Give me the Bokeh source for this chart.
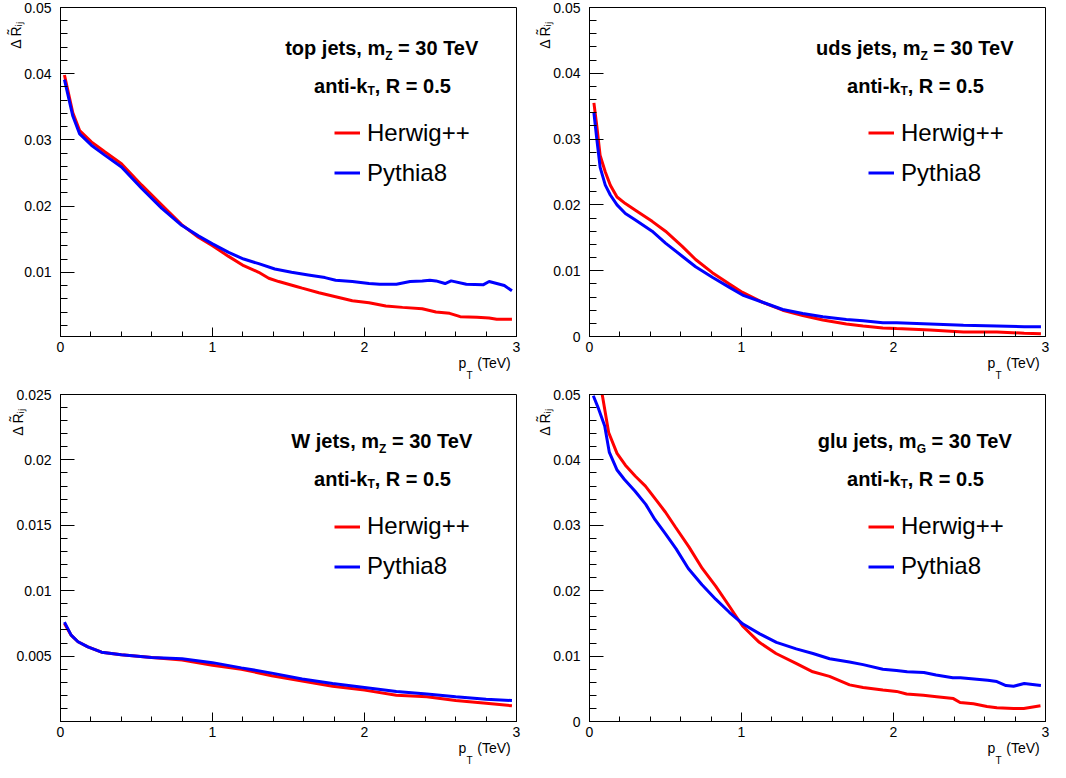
from bokeh.plotting import figure
from bokeh.models import (Range1d, FixedTicker, CustomJSTickFormatter, Label,
                          Legend, LegendItem, LinearAxis)
from bokeh.layouts import column, row
from bokeh.embed import file_html
from bokeh.resources import INLINE

# ---------------- data ----------------
SERIES_NAMES = ["Herwig++", "Pythia8"]

# top jets
top_x_herwig = [0.026, 0.081, 0.126, 0.203, 0.291, 0.401, 0.533, 0.665, 0.797, 0.907, 1.0,
                1.106, 1.205, 1.304, 1.37, 1.436, 1.546, 1.59, 1.70, 1.81, 1.92, 2.03, 2.14,
                2.25, 2.38, 2.47, 2.56, 2.63, 2.74, 2.82, 2.87, 2.97]
top_y_herwig = [0.0398, 0.0341, 0.0314, 0.0297, 0.0282, 0.0264, 0.0232, 0.0202, 0.0172, 0.0153,
                0.0140, 0.0124, 0.0110, 0.0100, 0.0091, 0.0086, 0.0079, 0.0076, 0.0069, 0.0063,
                0.0057, 0.0054, 0.0049, 0.0047, 0.0045, 0.0040, 0.0038, 0.0033, 0.0032, 0.0031,
                0.0029, 0.0029]
top_x_pythia = [0.026, 0.081, 0.126, 0.203, 0.291, 0.401, 0.533, 0.665, 0.797, 0.907, 1.0,
                1.106, 1.205, 1.304, 1.41, 1.52, 1.63, 1.74, 1.81, 1.92, 2.03, 2.10, 2.21, 2.30,
                2.38, 2.43, 2.47, 2.53, 2.57, 2.67, 2.78, 2.82, 2.92, 2.97]
top_y_pythia = [0.0391, 0.0336, 0.0309, 0.0292, 0.0277, 0.0259, 0.0227, 0.0197, 0.0171, 0.0155,
                0.0143, 0.0130, 0.0120, 0.0113, 0.0105, 0.0100, 0.0096, 0.0092, 0.0088, 0.0086,
                0.0083, 0.0082, 0.0082, 0.0086, 0.0087, 0.0088, 0.0087, 0.0083, 0.0087, 0.0082,
                0.0081, 0.0086, 0.0080, 0.0072]

# uds jets
uds_x = [0.029, 0.048, 0.070, 0.104, 0.137, 0.181, 0.236, 0.302, 0.412, 0.50, 0.61, 0.698,
         0.808, 0.918, 1.007, 1.139, 1.271, 1.403, 1.535, 1.69, 1.80, 1.93, 2.02, 2.24, 2.46,
         2.68, 2.86, 2.97]
uds_y_herwig = [0.0355, 0.032, 0.0275, 0.025, 0.023, 0.0212, 0.0202, 0.0192, 0.0175, 0.016,
                0.0137, 0.0117, 0.0097, 0.0080, 0.0067, 0.0052, 0.0040, 0.0032, 0.0025, 0.0019,
                0.0016, 0.0013, 0.0012, 0.0010, 0.0007, 0.0007, 0.0005, 0.0004]
uds_y_pythia = [0.034, 0.030, 0.0257, 0.023, 0.0215, 0.020, 0.0187, 0.0177, 0.016, 0.0142,
                0.0122, 0.0106, 0.009, 0.0075, 0.0063, 0.0052, 0.0041, 0.0035, 0.0030, 0.0026,
                0.0024, 0.0021, 0.0021, 0.0019, 0.0017, 0.0016, 0.0015, 0.0015]

# W jets
w_x = [0.026, 0.07, 0.115, 0.18, 0.27, 0.40, 0.60, 0.80, 1.0, 1.19, 1.39, 1.59, 1.79, 2.0,
       2.21, 2.41, 2.60, 2.80, 2.97]
w_y_herwig = [0.0075, 0.0066, 0.0061, 0.0057, 0.0053, 0.0051, 0.0049, 0.0047, 0.0043, 0.0040,
              0.0035, 0.0031, 0.0027, 0.0024, 0.0020, 0.0019, 0.0016, 0.0014, 0.0012]
w_y_pythia = [0.0076, 0.0066, 0.0061, 0.0057, 0.0053, 0.0051, 0.0049, 0.0048, 0.0045, 0.0041,
              0.0037, 0.00325, 0.0029, 0.0026, 0.0023, 0.0021, 0.0019, 0.0017, 0.0016]

# glu jets
glu_x_herwig = [0.03, 0.08, 0.126, 0.181, 0.236, 0.302, 0.368, 0.434, 0.50, 0.566, 0.654, 0.742,
                0.830, 0.918, 1.007, 1.117, 1.227, 1.359, 1.469, 1.579, 1.711, 1.80, 1.93, 2.02,
                2.086, 2.196, 2.284, 2.394, 2.438, 2.526, 2.615, 2.68, 2.79, 2.857, 2.967]
glu_y_herwig = [0.056, 0.0505, 0.0442, 0.041, 0.0392, 0.0375, 0.036, 0.034, 0.032, 0.0297,
                0.0267, 0.0234, 0.0207, 0.0177, 0.0146, 0.0121, 0.0104, 0.0089, 0.0076, 0.0069,
                0.0056, 0.0052, 0.0048, 0.0046, 0.0042, 0.0040, 0.0038, 0.0035, 0.0029, 0.0027,
                0.0023, 0.0021, 0.0020, 0.0020, 0.0024]
glu_x_pythia = [0.025, 0.06, 0.10, 0.13, 0.18, 0.23, 0.30, 0.37, 0.43, 0.50, 0.57, 0.65, 0.74,
                0.83, 0.92, 1.01, 1.12, 1.23, 1.36, 1.47, 1.58, 1.71, 1.80, 1.93, 2.02, 2.09,
                2.20, 2.28, 2.39, 2.44, 2.53, 2.62, 2.68, 2.74, 2.79, 2.86, 2.97]
glu_y_pythia = [0.0498, 0.0478, 0.0452, 0.0412, 0.0385, 0.037, 0.0352, 0.0332, 0.0309, 0.0287,
                0.0264, 0.0234, 0.0209, 0.0187, 0.0167, 0.0149, 0.0134, 0.0121, 0.0111, 0.0104,
                0.0096, 0.0091, 0.0087, 0.0080, 0.0078, 0.0076, 0.0075, 0.0071, 0.0067, 0.0067,
                0.0065, 0.0063, 0.0061, 0.0055, 0.0054, 0.0058, 0.0055]

# ticks
X_TICKS = [0, 1, 2, 3]
X_TICK_LABELS = ["0", "1", "2", "3"]
Y_TICKS_TOP = [0.01, 0.02, 0.03, 0.04, 0.05]
Y_TICK_LABELS_TOP = ["0.01", "0.02", "0.03", "0.04", "0.05"]
Y_TICKS_FULL = [0.0, 0.01, 0.02, 0.03, 0.04, 0.05]
Y_TICK_LABELS_FULL = ["0", "0.01", "0.02", "0.03", "0.04", "0.05"]
Y_TICKS_W = [0.005, 0.01, 0.015, 0.02, 0.025]
Y_TICK_LABELS_W = ["0.005", "0.01", "0.015", "0.02", "0.025"]

# axis titles
X_TITLE_MAIN = ["p", "(TeV)"]
X_TITLE_SUB = "T"
Y_TITLE = "\u0394\u2009R\u0303\u1d62\u2c7c"

# ---------------- style ----------------
FONT = "Liberation Sans"
RED = "#ff0000"
BLUE = "#0000ff"
NB = "\u00a0"

BOLD_W = {"t": 333, "o": 611, "p": 611, " ": 278, NB: 278, "j": 278, "e": 556, "s": 556,
          ",": 278, "m": 889, "u": 611, "d": 611, "W": 944, "g": 611, "l": 278, "=": 584,
          "3": 556, "0": 556, "T": 611, "V": 667, "a": 556, "n": 611, "i": 278, "-": 333,
          "k": 556, "R": 722, ".": 278, "5": 556, "Z": 611, "G": 778}


def bold_width(s, size):
    return sum(BOLD_W.get(c, 556) for c in s) * size / 1000.0


def tick_formatter(tvals, tlabels):
    return CustomJSTickFormatter(args=dict(tvals=tvals, tlabels=tlabels), code="""
        for (let i = 0; i < tvals.length; i++) {
            if (Math.abs(tvals[i] - tick) < 1e-9) { return tlabels[i]; }
        }
        return "";
    """)


def rich_line(p, pieces, cx, base_dy, ymax):
    total = sum(bold_width(t, s) for t, s, _ in pieces)
    xo = cx - total / 2.0
    for t, s, drop in pieces:
        p.add_layout(Label(x=0, y=ymax, x_offset=xo, y_offset=-(base_dy + drop), text=t,
                           text_font=FONT, text_font_style="bold",
                           text_font_size=f"{s}px", text_color="black",
                           text_align="left", text_baseline="alphabetic"))
        xo += bold_width(t, s)


def text_axis(p, side, ticks, labels, size, standoff, orientation="horizontal"):
    ax = LinearAxis(ticker=FixedTicker(ticks=ticks, minor_ticks=[]),
                    formatter=tick_formatter(ticks, labels))
    ax.axis_line_color = None
    ax.major_tick_line_color = None
    ax.minor_tick_line_color = None
    ax.major_tick_in = 0
    ax.major_tick_out = 0
    ax.minor_tick_in = 0
    ax.minor_tick_out = 0
    ax.major_label_standoff = standoff
    ax.major_label_orientation = orientation
    ax.major_label_text_font = FONT
    ax.major_label_text_font_size = f"{size}px"
    ax.major_label_text_color = "black"
    p.add_layout(ax, side)


def make_panel(series, y_rng, y_ticks, y_labels, title_pieces, sub_pieces, g):
    ymin, ymax = y_rng
    fw, fh = 456, g["fh"]
    p = figure(frame_width=fw, frame_height=fh,
               x_range=Range1d(0, 3), y_range=Range1d(ymin, ymax),
               output_backend="svg", toolbar_location=None,
               min_border_left=g["bl"], min_border_right=g["br"],
               min_border_top=g["bt"], min_border_bottom=g["bb"],
               background_fill_color="white", border_fill_color="white")
    p.grid.visible = False
    p.outline_line_color = "black"
    p.outline_line_width = 1
    p.outline_line_alpha = 1

    x_minor = [i * 0.2 for i in range(16)]
    ax = p.xaxis[0]
    ax.ticker = FixedTicker(ticks=X_TICKS, minor_ticks=x_minor)
    ax.formatter = tick_formatter(X_TICKS, X_TICK_LABELS)
    ax.major_tick_in = 9
    ax.major_tick_out = 0
    ax.minor_tick_in = 5
    ax.minor_tick_out = 0
    ax.major_label_standoff = 5

    step = (y_ticks[1] - y_ticks[0]) / 5.0
    n = int(round(ymax / step))
    y_minor = [i * step for i in range(n + 1) if i * step >= ymin - 1e-12]
    ay = p.yaxis[0]
    ay.ticker = FixedTicker(ticks=y_ticks, minor_ticks=y_minor)
    ay.formatter = tick_formatter(y_ticks, y_labels)
    ay.major_tick_in = 14
    ay.major_tick_out = 0
    ay.minor_tick_in = 7
    ay.minor_tick_out = 0
    ay.major_label_standoff = 9

    for a in (ax, ay):
        a.axis_line_color = "black"
        a.major_tick_line_color = "black"
        a.minor_tick_line_color = "black"
        a.major_label_text_font = FONT
        a.major_label_text_font_size = "14px"
        a.major_label_text_color = "black"

    renderers = []
    for (xs, ys), color in zip(series, [RED, BLUE]):
        renderers.append(p.line(xs, ys, line_color=color, line_width=3))

    rich_line(p, title_pieces, g["cx"], g["t1"], ymax)
    rich_line(p, sub_pieces, g["cx"], g["t2"], ymax)

    legend = Legend(items=[LegendItem(label=SERIES_NAMES[0], renderers=[renderers[0]]),
                           LegendItem(label=SERIES_NAMES[1], renderers=[renderers[1]])],
                    location=(g["lgx"], g["lgy"]), orientation="vertical",
                    glyph_width=26, glyph_height=27, label_height=27, label_standoff=7,
                    spacing=12, padding=0, margin=0,
                    border_line_alpha=0, background_fill_alpha=0,
                    label_text_font=FONT, label_text_font_size="24px",
                    label_text_color="black")
    p.add_layout(legend)

    # x axis title  p_T (TeV), right-aligned under the axis
    px_to_x = 3.0 / fw
    text_axis(p, "below", [3 - 54 * px_to_x, 3 - 22.5 * px_to_x], X_TITLE_MAIN, 14, 0)
    text_axis(p, "below", [3 - 47 * px_to_x], [X_TITLE_SUB], 10, -4)
    # y axis title  Delta R~_ij, at the top of the axis
    yc = ymax - 28.0 / fh * (ymax - ymin)
    text_axis(p, "left", [yc], [Y_TITLE], 14, g["ys"], orientation="parallel")
    return p


ROW1 = dict(fh=329, bt=7, bb=49, t1=40.5, t2=78, lgy=149.5)
ROW2 = dict(fh=327, bt=9, bb=41, t1=46.5, t2=84, lgy=141)
COL1 = dict(bl=60, br=16, cx=322, lgx=274)
COL2 = dict(bl=57, br=5, cx=326, lgx=279)


def sub_line():
    return [("anti-k", 20, 0), ("T", 12, 5), (", R = 0.5", 20, 0)]


def main_line(kind, sub):
    return [(kind + " jets, m", 20, 0), (sub, 12, 8), (NB + "= 30 TeV", 20, 0)]


p1 = make_panel([(top_x_herwig, top_y_herwig), (top_x_pythia, top_y_pythia)],
                (0.0003, 0.05), Y_TICKS_TOP, Y_TICK_LABELS_TOP,
                main_line("top", "Z"), sub_line(), {**ROW1, **COL1, "ys": -2})
p2 = make_panel([(uds_x, uds_y_herwig), (uds_x, uds_y_pythia)],
                (0.0, 0.05), Y_TICKS_FULL, Y_TICK_LABELS_FULL,
                main_line("uds", "Z"), sub_line(), {**ROW1, **COL2, "ys": -2})
p3 = make_panel([(w_x, w_y_herwig), (w_x, w_y_pythia)],
                (0.0, 0.025), Y_TICKS_W, Y_TICK_LABELS_W,
                main_line("W", "Z"), sub_line(), {**ROW2, **COL1, "ys": -12})
p4 = make_panel([(glu_x_herwig, glu_y_herwig), (glu_x_pythia, glu_y_pythia)],
                (0.0, 0.05), Y_TICKS_FULL, Y_TICK_LABELS_FULL,
                main_line("glu", "G"), sub_line(), {**ROW2, **COL2, "ys": -2})

layout = column(row(p1, p2), row(p3, p4))

with open("out.html", "w") as f:
    f.write(file_html(layout, INLINE))
